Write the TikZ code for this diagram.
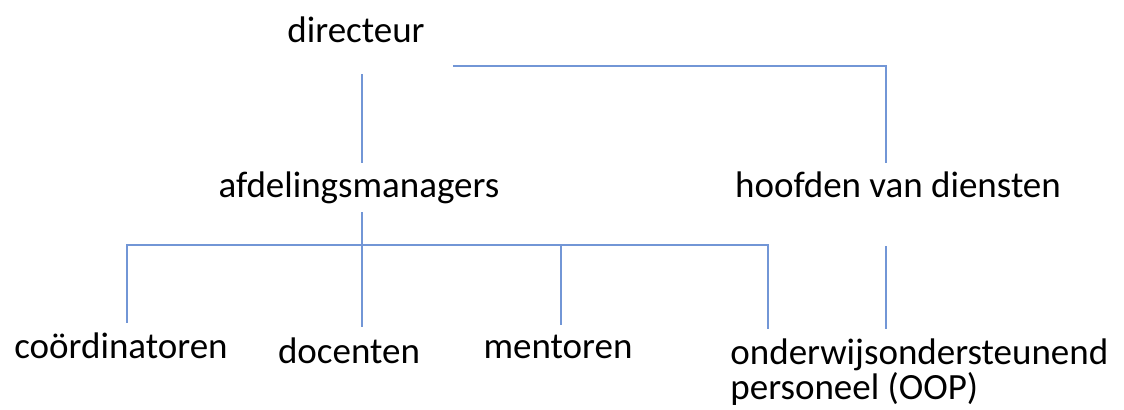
\documentclass[tikz,border=0pt]{standalone}
\usepackage{fontspec}
\setmainfont{Carlito}
\usepackage{tikz}
\usetikzlibrary{calc, positioning}
\definecolor{linkblue}{RGB}{114,150,214}
\tikzset{
  post/.style={inner sep=0pt, anchor=base, text height=12pt, text depth=4pt, font=\fontsize{18.5}{17.5}\selectfont},
  link/.style={draw=linkblue, line width=1pt}
}
\begin{document}
\begin{tikzpicture}[x=0.5pt, y=-0.5pt]
\useasboundingbox (0,0) rectangle (1124,409);
\node[post] (dir) at (356,42) {directeur};
\node[post] (afd) at (359,197) {afdelingsmanagers};
\node[post] (hvd) at (898,197) {hoofden van diensten};
%bottom row
\node[post] (coo) at (121,358) {coördinatoren};
\node[post] (doc) at (349,363) {docenten};
\node[post] (men) at (558,358) {mentoren};
\node[inner sep=0pt, anchor=north west, align=left, font=\fontsize{18.5}{17.5}\selectfont] (oop) at (730,338) {onderwijsondersteunend\\personeel (OOP)};
\coordinate (bus) at (362,245);
%%
\draw[link, shorten <=12pt, shorten >=5pt] ([xshift=3pt]dir.south) -- ([xshift=1.5pt]afd.north);
\draw[link, shorten >=5pt] ([xshift=14pt,yshift=-8pt]dir.south east) -| ([xshift=-6pt]hvd.north);
\draw[link, shorten <=3.5pt, shorten >=6pt] ([xshift=1.5pt]afd.south) -- ([xshift=6.5pt]doc.north);
\draw[link, shorten <=5.5pt, shorten >=4.5pt] ([xshift=3pt]coo.north) |- (bus) -| ([xshift=19pt]oop.north west);
\coordinate (m) at ([xshift=1.5pt]men.north);
\draw[link, shorten >=4.5pt] (m |- bus) -- (m);
\draw[link, shorten <=20.5pt, shorten >=4.5pt] ([xshift=-6pt]hvd.south) -- ([xshift=-6pt]hvd.south |- oop.north);
\end{tikzpicture}
\end{document}
